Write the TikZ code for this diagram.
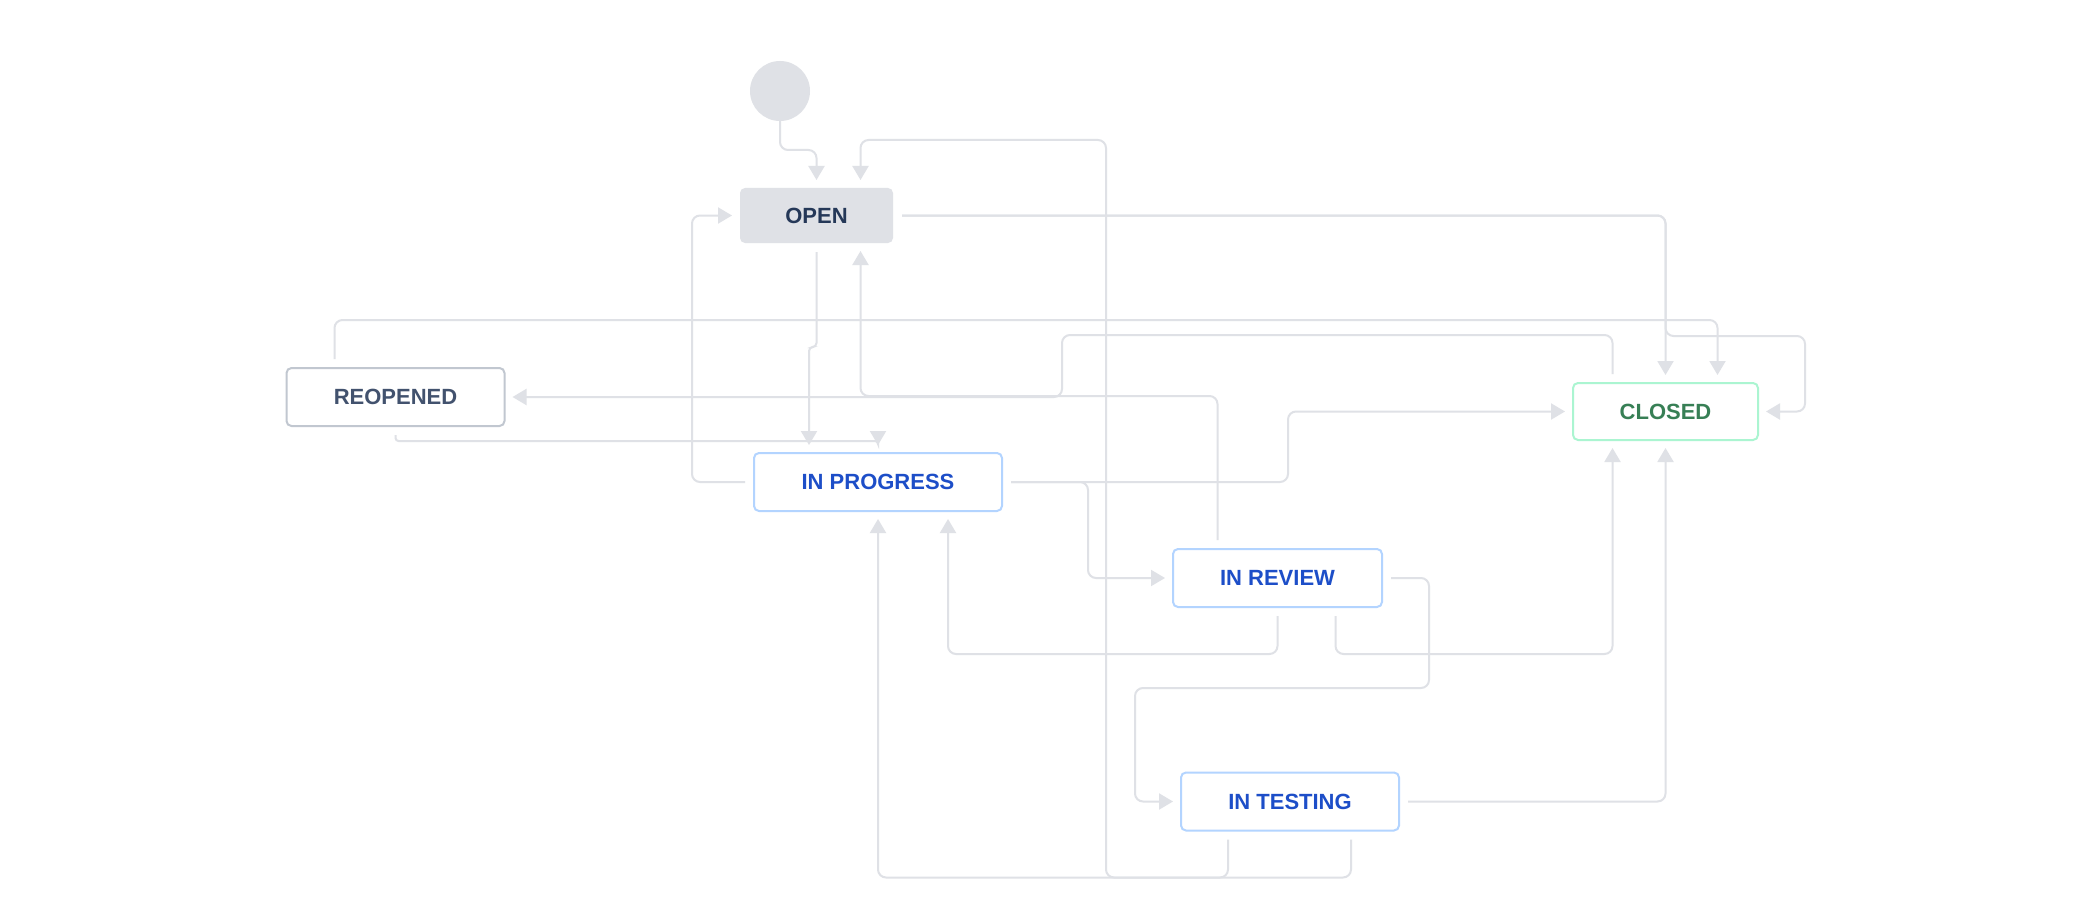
\documentclass[tikz,border=0pt]{standalone}
\usepackage{fontspec}
\setmainfont{Liberation Sans}
\usepackage{tikz}
\usetikzlibrary{arrows.meta}
\usepackage{xcolor}

\definecolor{linha}{HTML}{DFE1E6}
\definecolor{cinza}{HTML}{DFE1E6}
\definecolor{textoopen}{HTML}{253858}
\definecolor{bordareopened}{HTML}{C1C7D0}
\definecolor{textoreopened}{HTML}{42526E}
\definecolor{bordaazul}{HTML}{B3D4FF}
\definecolor{textoazul}{HTML}{1D4EC8}
\definecolor{bordaverde}{HTML}{ABF5D1}
\definecolor{textoverde}{HTML}{377F55}

\begin{document}
\begin{tikzpicture}[x=1pt, y=-1pt,
        estado/.style={rectangle, rounded corners=5pt, line width=2pt, inner sep=0pt,
          minimum height=58pt, font=\fontsize{22}{26}\selectfont\bfseries},
        azul/.style={estado, draw=bordaazul, fill=white, text=textoazul},
        transicao/.style={draw=linha, line width=2pt, rounded corners=8pt,
          -{Triangle[length=14pt,width=16pt]}, shorten <=8pt, shorten >=7pt}]
        \fill[white] (0,0) rectangle (2092,920);

        % Estados
        \node[circle, fill=cinza, minimum size=60pt, inner sep=0pt] (inicio) at (780,91) {};
        \node[estado, fill=cinza, minimum width=153pt, minimum height=55pt, text=textoopen] (open) at (816.5,215.5) {OPEN};
        \node[estado, draw=bordareopened, fill=white, text=textoreopened, minimum width=218pt] (reopened) at (395.5,397) {REOPENED};
        \node[azul, minimum width=248pt] (inprogress) at (878,482) {IN PROGRESS};
        \node[azul, minimum width=209pt] (inreview) at (1277.5,578) {IN REVIEW};
        \node[azul, minimum width=218pt] (intesting) at (1290,801.5) {IN TESTING};
        \node[estado, draw=bordaverde, fill=white, text=textoverde, minimum width=185pt, minimum height=57pt] (closed) at (1665.5,411.5) {CLOSED};

        % Transicoes de OPEN
        \draw[transicao, shorten <=0pt] (inicio.south) |- (816.5,150) -- (open.north);
        \draw[transicao] (open.east) -| (closed.north);
        \draw[transicao] (open.east) -| (1665.5,336) -- (1805,336) |- (closed.east);
        \draw[transicao, rounded corners=4pt] (open.south) -- (816.5,347) -| ([xshift=-69pt]inprogress.north);

        % Transicoes de REOPENED
        \draw[transicao] ([xshift=-61pt]reopened.north) -- ++(0,-47) -| ([xshift=52pt]closed.north);
        \draw[transicao, rounded corners=3pt] (reopened.south) -- ++(0,14) -| (inprogress.north);

        % Transicoes de IN PROGRESS
        \draw[transicao] (inprogress.west) -- ++(-61,0) |- (open.west);
        \draw[transicao] (inprogress.east) -- ++(85,0) |- (inreview.west);
        \draw[transicao] (inprogress.east) -- ++(285,0) |- (closed.west);

        % Transicoes de IN REVIEW
        \draw[transicao] ([xshift=-60pt]inreview.north) -- ++(0,-152) -| ([xshift=44pt]open.south);
        \draw[transicao] (inreview.south) -- ++(0,46) -| ([xshift=70pt]inprogress.south);
        \draw[transicao] ([xshift=58pt]inreview.south) -- ++(0,46) -| ([xshift=-53pt]closed.south);
        \draw[transicao] (inreview.east) -- ++(46,0) -- ++(0,110) -- (1135,688) |- (intesting.west);

        % Transicoes de IN TESTING
        \draw[transicao] (intesting.east) -| (closed.south);
        \draw[transicao] ([xshift=-62pt]intesting.south) -- ++(0,46) -| (inprogress.south);
        \draw[transicao] ([xshift=61pt]intesting.south) -- ++(0,46) -| (1106,140) -| ([xshift=44pt]open.north);

        % Transicao de CLOSED
        \draw[transicao] ([xshift=-53pt]closed.north) -- ++(0,-47) -| (1062,397) -- (reopened.east);
    \end{tikzpicture}
\end{document}
